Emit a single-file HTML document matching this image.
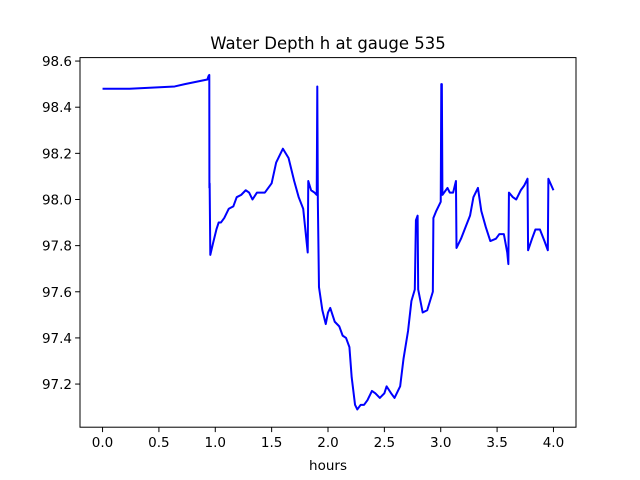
<!DOCTYPE html>
<html><head><meta charset="utf-8"><style>
body{margin:0;background:#fff;}
svg{display:block;font-family:"DejaVu Sans","Liberation Sans",sans-serif;}
</style></head><body>
<svg id="chart" width="640" height="480" viewBox="0 0 640 480">
<rect x="0" y="0" width="640" height="480" fill="#fff"/>
<text x="328" y="49" text-anchor="middle" font-size="16.5">Water Depth h at gauge 535</text>
<g id="grid"></g>
<path id="series" fill="none" stroke="#0000ff" stroke-width="2" stroke-linejoin="round"/>
<rect x="80" y="57.6" width="496" height="369.6" fill="none" stroke="#000" stroke-width="1"/>
<g id="ticks"></g>
<text x="328" y="470" text-anchor="middle" font-size="13.5">hours</text>
</svg>
<script>
const hours=[0,0.24,0.64,0.73,0.93,0.94,0.947,0.948,0.95,0.956,0.98,1.01,1.03,1.05,1.08,1.12,1.16,1.19,1.23,1.27,1.30,1.33,1.37,1.44,1.50,1.54,1.60,1.65,1.70,1.74,1.78,1.82,1.825,1.85,1.88,1.90,1.905,1.91,1.92,1.95,1.98,2.00,2.02,2.06,2.10,2.13,2.16,2.19,2.21,2.24,2.26,2.29,2.32,2.35,2.39,2.42,2.46,2.50,2.52,2.56,2.59,2.64,2.67,2.71,2.74,2.77,2.78,2.795,2.80,2.84,2.88,2.93,2.935,2.96,3.00,3.005,3.01,3.015,3.06,3.08,3.11,3.135,3.14,3.18,3.22,3.26,3.29,3.33,3.36,3.40,3.44,3.49,3.52,3.56,3.59,3.60,3.605,3.64,3.67,3.71,3.74,3.77,3.775,3.81,3.84,3.88,3.92,3.95,3.955,4.0];
const depth=[98.48,98.48,98.49,98.50,98.52,98.535,98.54,98.05,98.07,97.76,97.81,97.87,97.90,97.90,97.92,97.96,97.97,98.01,98.02,98.04,98.03,98.00,98.03,98.03,98.07,98.16,98.22,98.18,98.08,98.01,97.96,97.77,98.08,98.04,98.03,98.02,98.49,97.99,97.62,97.52,97.46,97.51,97.53,97.47,97.45,97.41,97.40,97.36,97.23,97.11,97.09,97.11,97.11,97.13,97.17,97.16,97.14,97.16,97.19,97.16,97.14,97.19,97.31,97.43,97.56,97.61,97.91,97.93,97.61,97.51,97.52,97.60,97.92,97.95,97.99,98.50,98.50,98.02,98.05,98.03,98.03,98.08,97.79,97.83,97.88,97.93,98.01,98.05,97.95,97.88,97.82,97.83,97.85,97.85,97.77,97.72,98.03,98.01,98.00,98.04,98.06,98.09,97.78,97.83,97.87,97.87,97.82,97.78,98.09,98.04];
const xTicks=[0,0.5,1,1.5,2,2.5,3,3.5,4];
const xTickLabels=["0.0","0.5","1.0","1.5","2.0","2.5","3.0","3.5","4.0"];
const yTicks=[97.2,97.4,97.6,97.8,98.0,98.2,98.4,98.6];
const yTickLabels=["97.2","97.4","97.6","97.8","98.0","98.2","98.4","98.6"];
const X0=80,X1=576,Y0=57.6,Y1=427.2,xmin=-0.2,xmax=4.2,ymin=97.013,ymax=98.615;
function xs(v){return X0+(v-xmin)/(xmax-xmin)*(X1-X0);}
function ys(v){return Y1-(v-ymin)/(ymax-ymin)*(Y1-Y0);}
const NS="http://www.w3.org/2000/svg";
let d="";
hours.forEach((h,i)=>{d+=(i?"L":"M")+xs(h).toFixed(2)+","+ys(depth[i]).toFixed(2);});
document.getElementById("series").setAttribute("d",d);
const tg=document.getElementById("ticks");
xTicks.forEach((t,i)=>{
  const x=xs(t);
  const l=document.createElementNS(NS,"line");
  l.setAttribute("x1",x);l.setAttribute("x2",x);l.setAttribute("y1",Y1);l.setAttribute("y2",Y1+4.9);l.setAttribute("stroke","#000");
  
  
  tg.appendChild(l);
  const tx=document.createElementNS(NS,"text");
  tx.setAttribute("x",x);tx.setAttribute("y",Y1+20);tx.setAttribute("text-anchor","middle");tx.setAttribute("font-size","13.5");
  tx.textContent=xTickLabels[i];
  
  
  tg.appendChild(tx);
});
yTicks.forEach((t,i)=>{
  const y=ys(t);
  const l=document.createElementNS(NS,"line");
  l.setAttribute("x1",X0-4.9);l.setAttribute("x2",X0);l.setAttribute("y1",y);l.setAttribute("y2",y);l.setAttribute("stroke","#000");
  
  
  tg.appendChild(l);
  const tx=document.createElementNS(NS,"text");
  tx.setAttribute("x",X0-8);tx.setAttribute("y",y+5);tx.setAttribute("text-anchor","end");tx.setAttribute("font-size","13.5");
  tx.textContent=yTickLabels[i];
  
  
  tg.appendChild(tx);
});
</script>
</body></html>
